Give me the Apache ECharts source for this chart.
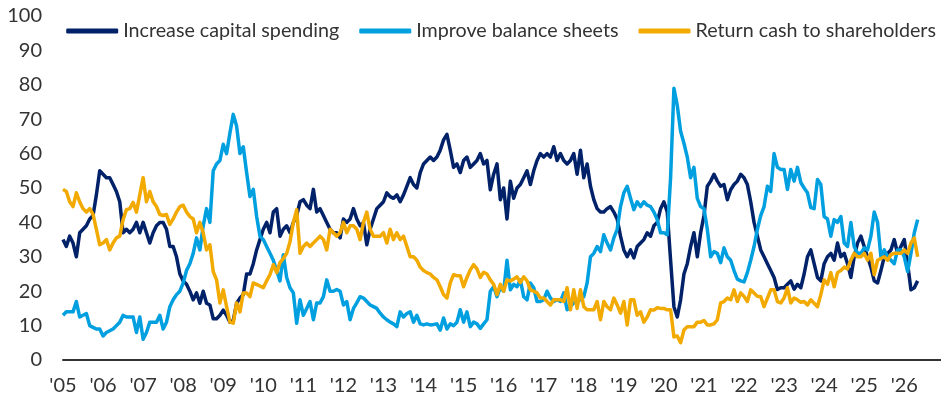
<!DOCTYPE html>
<html>
<head>
<meta charset="utf-8">
<script src="https://cdn.jsdelivr.net/npm/echarts@6/dist/echarts.min.js"></script>
<style>
html,body{margin:0;padding:0;background:#fff;}
#chart{width:941px;height:405px;}
</style>
</head>
<body>
<div id="chart"></div>
<script>
// Monthly categories Jan 2005 - Dec 2026
const months = [];
for (let y = 2005; y <= 2026; y++) {
  for (let m = 1; m <= 12; m++) months.push(y + '-' + (m < 10 ? '0' : '') + m);
}

const seriesNames = ['Increase capital spending', 'Improve balance sheets', 'Return cash to shareholders'];

const capex = [
 35,33,36,34,30,37,38,39,41,42,48,55,
 54,53,53,51,49,46,37,38,37,38,40,37,
 40,37,34,37,39,40,40,38,33,33,30,25,
 23,22,20,17.5,19.5,16.5,20,16.5,16,12,12,13,
 14.5,13,11,11.5,16.5,18,19,25,25,28,32,35,
 38,40,37,43,44,36,38,39,37,40,42,46,
 46.6,45,44,49.6,43,44,42,40,38,37,37,35.5,
 41,40,41,44,41,39,40,33.5,38,41,44,45,
 46,48.6,47.5,47,48,46,48,50.5,53,51,50,54.5,
 57,58,59,58,59,61,64,65.6,61,56,57,54.5,
 58,59,56,57,58,60,57,58,49.5,54,57,46.6,
 50,41,52,47,50,51,53,55,51,55,58,60,
 59,60,59,62,58,60,58,57,58,60,54,61,
 53,57,50.5,46.6,44,43,43,44,44.6,43,41,36,
 32,30,32,29.7,33,34,35,37,36,39,40,44,
 46,43,29,15.5,12.5,17.5,25,28,33,37,30,37,
 42,50.5,52,54,52,50.5,51,46.6,49.5,51,52,54,
 53,51,46,40,36,32,30,28,26,24,20.5,21,
 21,22,23,20.6,22,21,25,30,32,28,24,23,
 28,30,31,29,34,30,31,28,24,30,34,36,
 33,30,27,23,22.4,26,30,31,32,35,31,33,
 35,28,20.4,21,23
];

const balance = [
 13,14,14,14,17,12.5,13,13.5,10,9.5,9,9,
 7,8,8.5,9,10,11,13,12.5,12.5,12.5,8,12.5,
 6,8,11,11,11,13,9,11,15.5,17.5,19,20,
 22.4,26,28,31,35.5,32,39,44,40,55,57,58,
 62.7,60,66,71.4,68,60,62,54.5,47.5,49.6,41.7,36,
 35,33,31,29,26,23,30.6,24,21,19.5,10.7,17.5,
 13,15,17,11.7,16.6,16.6,18.4,23.3,20,20,20.5,20,
 16,17,11.7,15,16.6,18.4,18,17,16,15.5,15,13.6,
 12.5,11.7,11,10.5,9.7,14,12.5,13.5,14,11,13,10.5,
 10.2,10.5,10.2,10.3,10.5,8.7,12.2,9,10.5,10,11,14.6,
 11,14,9.7,11,10.5,9.2,10.5,11.7,20,21.3,18.4,21,
 20,29,20.4,22,21.3,23.3,18.4,17.5,22.4,21,17,17,
 17.5,20,18,17,17.5,17,19.5,14.6,15.5,16.6,17,17.5,
 18.4,22.4,30,31,33,31.5,36.4,34,32,35.5,38,44.6,
 48.6,50.5,47,43.7,46,44.6,46,45,44.6,43,40.8,37,
 37,36.4,53,79,74,66.5,63,59,53,56,47,44.6,
 44,38,30,31.5,31,28.3,32.6,30,29,26,23.5,23,
 22.7,25.4,29,33,38,42,44.6,50.5,49,60,56,55.4,
 55.4,49.6,55.4,52,56,51.6,50,48.6,44.3,44,52.5,51,
 41.7,41,36,40.8,40,41.7,34,33,40,33,31,31,
 32.6,32,36,43,40,30,32,30,29,28,32,32,
 30,25.7,31,37,40.8
];

const returnCash = [
 49.6,49,46,44.6,48.6,46,44,43,44,42.3,38,33.5,
 34,35,32,34,35.5,36,40.8,43.7,44,45.8,43,48,
 53,46,49,46,44.6,42.3,42,42.3,39.4,41,43,44.6,
 45,43,41.7,41,37,40,37,32,33.5,25.7,23.3,16.6,
 20.4,15.5,11,10.7,16.6,14,19.5,19.5,18.4,22.4,22,21.5,
 21,23,24.8,27.7,25.4,28.3,29.5,31,34.4,40,43.7,31,
 33,34,33,34,35,36,35,32,38,37,36,37,
 40,37,39,39,38,35,40,43,38,36,36,36,
 37,34,38,35,37,35,36,33,30,30,29,27,
 26,25.4,25,24,23.3,21.3,19,18,22.4,24.8,24.5,24.5,
 21.3,24,26.2,27.7,26.5,24,25.5,25,23.3,22,19,22,
 20,23.3,23,23.5,24.2,22.5,24.2,23,20.4,20,19.5,18,
 18,17,16,17.5,17.5,17.5,17,21,14.6,20.4,15,20.4,
 15.5,14.6,14.6,14.6,17,11.7,17,15.5,14.6,18,16,13.6,
 17,10.2,17.5,17.5,13,14,11,12.5,14.6,14.5,15.2,15,
 15,14.6,14.6,6.7,7,5,8.7,9.7,9.7,9.7,11,11,
 11.5,10.2,10.2,10.5,11.7,16.6,17,18,17.5,20.4,17,19.5,
 18.5,17,20.4,19.5,18.5,18.4,15.5,18,20.4,20.4,17,16.6,
 18,21,16.6,18,17.5,16.8,17,16,17.5,16.5,15.5,19,
 23.3,22,25.4,21.3,25.4,26,27,26.5,29,31,30,30,
 31,29,31,24.8,29,29.5,30,29,30.6,31,31,31,
 32,31,34,35.5,30
];

const yTicks = [0,10,20,30,40,50,60,70,80,90,100];
const colors = ['#012169', '#009FDF', '#F2A900'];
const FONT = 'Lato, "Open Sans", sans-serif';

const chart = echarts.init(document.getElementById('chart'), null, {renderer: 'canvas'});
chart.setOption({
  animation: false,
  color: colors,
  grid: {left: 63, right: 0, top: 16, bottom: 45, containLabel: false},
  legend: {
    right: 0, top: 16,
    icon: 'roundRect',
    itemWidth: 52, itemHeight: 5, itemGap: 20,
    textStyle: {fontFamily: FONT, fontSize: 19.7, color: '#333'},
    data: seriesNames
  },
  xAxis: {
    type: 'category',
    data: months,
    boundaryGap: false,
    axisLine: {lineStyle: {color: '#333', width: 2}},
    axisTick: {show: false},
    axisLabel: {
      interval: 11,
      margin: 16,
      fontFamily: FONT, fontSize: 20, color: '#333',
      formatter: v => "'" + v.slice(2, 4)
    },
    splitLine: {show: false}
  },
  yAxis: {
    type: 'value',
    min: yTicks[0], max: yTicks[yTicks.length - 1], interval: 10,
    axisLine: {show: false},
    axisTick: {show: false},
    splitLine: {show: false},
    axisLabel: {margin: 21, fontFamily: FONT, fontSize: 20, color: '#333'}
  },
  series: [
    {name: seriesNames[0], type: 'line', data: capex, showSymbol: false, lineStyle: {width: 3.5, join: 'round'}},
    {name: seriesNames[1], type: 'line', data: balance, showSymbol: false, lineStyle: {width: 3.5, join: 'round'}},
    {name: seriesNames[2], type: 'line', data: returnCash, showSymbol: false, lineStyle: {width: 3.5, join: 'round'}}
  ]
});
</script>
</body>
</html>
